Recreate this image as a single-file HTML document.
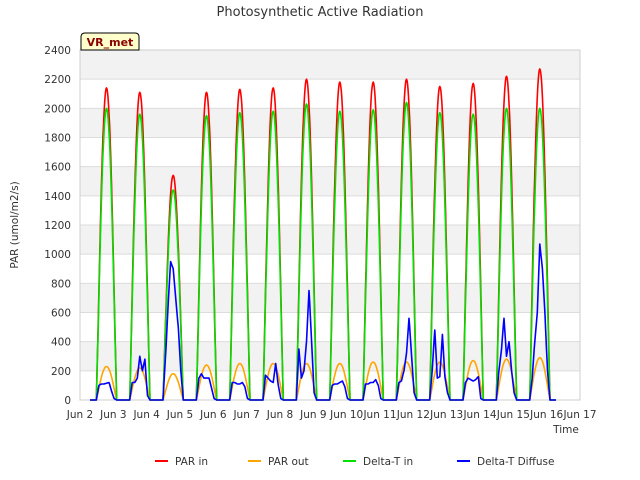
<!DOCTYPE html>
<html><head><meta charset="utf-8"><style>
body{margin:0;background:#fff;font-family:"DejaVu Sans","Liberation Sans",sans-serif;}
svg{display:block}
</style></head><body>
<svg id="chart" width="640" height="480"></svg>
<script>
const dayLabels=["Jun 2","Jun 3","Jun 4","Jun 5","Jun 6","Jun 7","Jun 8","Jun 9","Jun 10","Jun 11","Jun 12","Jun 13","Jun 14","Jun 15","Jun 16","Jun 17"];
const yTicks=[0,200,400,600,800,1000,1200,1400,1600,1800,2000,2200,2400];
const parInPeaks=[2140,2110,1540,2110,2130,2140,2200,2180,2180,2200,2150,2170,2220,2270];
const deltaInPeaks=[2000,1960,1440,1950,1970,1980,2030,1980,1990,2040,1970,1960,2000,2000];
const parOutPeaks=[230,220,180,240,250,250,250,250,260,260,260,270,280,290];
const diffuseSamples=[
[0,100,110,110,115,120,60,10,0],
[0,120,120,150,300,200,280,30,0],
[0,300,650,950,900,700,500,200,0],
[0,150,180,150,150,150,80,10,0],
[0,120,120,110,110,120,90,10,0],
[0,170,150,130,120,250,100,10,0],
[0,350,150,200,400,750,400,50,0],
[0,100,110,110,120,130,90,10,0],
[0,110,110,120,120,140,100,10,0],
[0,120,130,200,320,560,300,50,0],
[0,200,480,150,160,450,160,50,0],
[0,120,150,140,130,140,160,10,0],
[0,200,340,560,300,400,200,50,0],
[0,150,400,600,1070,900,600,200,0]];
const NS="http://www.w3.org/2000/svg";
const svg=document.getElementById('chart');
const L=80,R=580,T=50,B=400;
const xs=d=>L+(d/15)*(R-L);
const ys=v=>B-(v/2400)*(B-T);
function mk(tag,attrs,parent){const e=document.createElementNS(NS,tag);for(const k in attrs)e.setAttribute(k,attrs[k]);(parent||svg).appendChild(e);return e;}
for(let i=0;i<12;i++){const v=i*200;const r=mk('rect',{x:L,y:ys(v+200),width:R-L,height:ys(v)-ys(v+200),fill:(i%2===1)?'#f2f2f2':'#ffffff'});

}
yTicks.forEach(v=>{const g=mk('line',{x1:L,x2:R,y1:ys(v),y2:ys(v),stroke:'#dcdcdc','stroke-width':1});


const t=mk('text',{x:L-9,y:ys(v)+4,'text-anchor':'end','font-size':10.5,fill:'#333'});t.textContent=v;

});
dayLabels.forEach((s,i)=>{
const t=mk('text',{x:xs(i),y:B+18,'text-anchor':'middle','font-size':10.5,fill:'#333'});t.textContent=s;

});
const frame=mk('rect',{x:L,y:T,width:R-L,height:B-T,fill:'none',stroke:'#cfcfcf'});


const SR=0.49,SS=1.10;
function curve(fn){let pts=[[0.3,0]];
for(let i=0;i<parInPeaks.length;i++){const a=i+SR,b=i+SS;pts.push([a,0]);
for(let k=0;k<=40;k++){const f=k/40;pts.push([a+(b-a)*f,fn(i,f)]);}pts.push([b,0]);}
pts.push([14.28,0]);return pts.map(p=>xs(p[0]).toFixed(1)+','+ys(p[1]).toFixed(1)).join(' ');}
const sinShape=(p,f)=>p*Math.pow(Math.sin(Math.PI*f),1.1);
function interp(arr,f){const n=arr.length-1;const x=f*n;const j=Math.min(n-1,Math.floor(x));const u=x-j;return arr[j]*(1-u)+arr[j+1]*u;}
const series=[
{name:'par-in-line',color:'#ff0000',fn:(i,f)=>sinShape(parInPeaks[i],f)},
{name:'par-out-line',color:'#ffa500',fn:(i,f)=>sinShape(parOutPeaks[i],f)},
{name:'delta-t-in-line',color:'#00e000',fn:(i,f)=>sinShape(deltaInPeaks[i],f)},
{name:'delta-t-diffuse-line',color:'#0000ff',fn:(i,f)=>interp(diffuseSamples[i],f)}];
series.forEach(s=>{const p=mk('polyline',{points:curve(s.fn),fill:'none',stroke:s.color,'stroke-width':1.6,'stroke-linejoin':'round'});

});
const ti=mk('text',{x:320,y:16,'text-anchor':'middle','font-size':13,fill:'#333'});ti.textContent='Photosynthetic Active Radiation';


const yl=mk('text',{x:18,y:225,'text-anchor':'middle','font-size':10.5,fill:'#333',transform:'rotate(-90 18 225)'});yl.textContent='PAR (umol/m2/s)';


const xl=mk('text',{x:566,y:433,'text-anchor':'middle','font-size':10.5,fill:'#333'});xl.textContent='Time';


const bx=mk('path',{d:'M81,50 L81,37 Q81,33 85,33 L135,33 Q139,33 139,37 L139,50 Z',fill:'#ffffcc',stroke:'#000','stroke-width':1});


const bt=mk('text',{x:110,y:46,'text-anchor':'middle','font-size':11,'font-weight':'bold',fill:'#8b0000'});bt.textContent='VR_met';


const legend=[['PAR in','#ff0000',155],['PAR out','#ffa500',248],['Delta-T in','#00e000',343],['Delta-T Diffuse','#0000ff',457]];
legend.forEach(l=>{const g=mk('g',{});


mk('line',{x1:l[2],x2:l[2]+13,y1:461,y2:461,stroke:l[1],'stroke-width':2},g);
const t=mk('text',{x:l[2]+20,y:465,'font-size':10.5,fill:'#333'},g);t.textContent=l[0];});
</script>
</body></html>
